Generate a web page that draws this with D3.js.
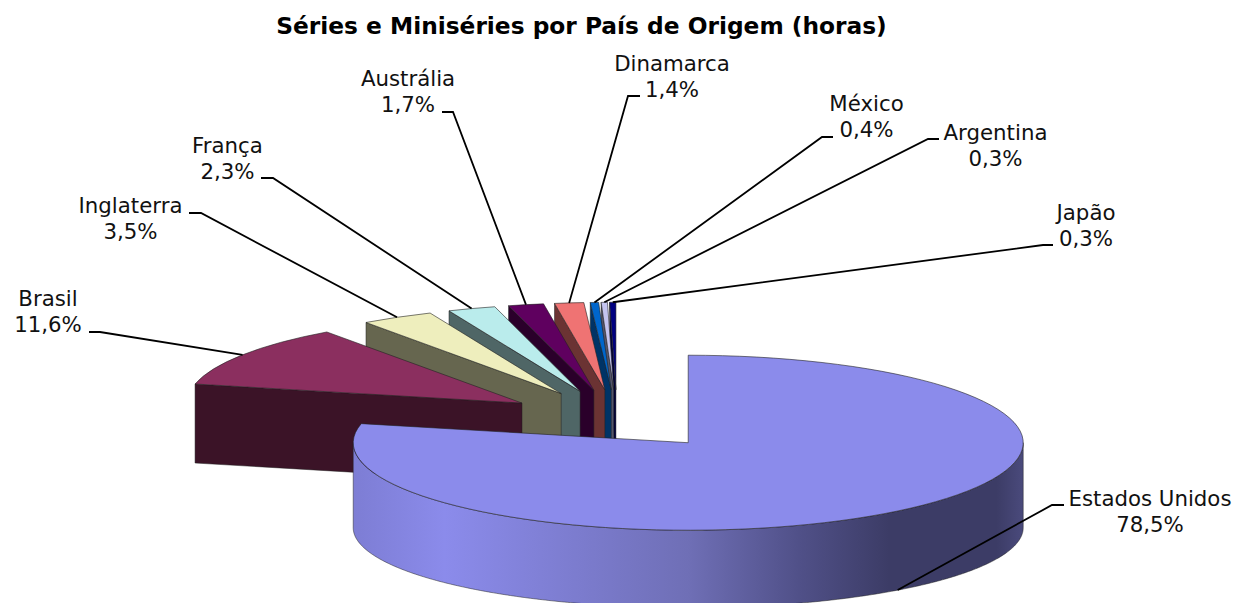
<!DOCTYPE html>
<html>
<head>
<meta charset="utf-8">
<script src="https://cdn.jsdelivr.net/npm/d3@7"></script>
<style>
  html, body { margin: 0; padding: 0; background: #fff; overflow: hidden; }
  text { font-family: "DejaVu Sans", sans-serif; fill: #111; }
</style>
</head>
<body>
<svg id="pie"></svg>
<script>
// Chart data
var countries = ["Estados Unidos", "Brasil", "Inglaterra", "França", "Austrália", "Dinamarca", "México", "Argentina", "Japão"];
var shares = [78.5, 11.6, 3.5, 2.3, 1.7, 1.4, 0.4, 0.3, 0.3];
var shareLabels = ["78,5%", "11,6%", "3,5%", "2,3%", "1,7%", "1,4%", "0,4%", "0,3%", "0,3%"];

// Slice colours, same order as countries
var topColors = ["#8b8beb", "#8b2f5f", "#eeeebd", "#baecec", "#5f005f", "#ef7373", "#0066cc", "#c4c4ef", "#000080"];
var wallColors = ["#3c3c66", "#3b1327", "#66664f", "#4f6666", "#2a002a", "#6b3333", "#003366", "#55556a", "#000038"];

// Hand placed labels: text centre, first baseline, leader start, elbow
var labelX = [1150, 48, 130.5, 227.5, 408, 672, 866.5, 995.5, 1086];
var labelY = [506, 306, 213, 153, 86, 71, 111, 140, 220];
var leaderStart = [[1064, 505], [89, 332], [189, 213], [261, 178], [442, 112], [640, 96], [833, 137], [939, 139], [1053, 245]];
var leaderElbow = [[1052, 505], [100, 332], [201, 213], [273, 178], [453, 112], [628, 96], [822, 137], [928, 139], [1043, 245]];

var width = 1235;
var height = 603;
var rx = 335;
var ry = 87.5;
var explode = 0.34;
var center = {x: 617, y: 419.5};
var depth = 79;
// the big slice is nearer the viewer so its lower rim comes out a bit different
var frontDepth = 85;
var frontRy = 80;

var svg = d3.select("#pie")
            .attr("width", width)
            .attr("height", height)
            .style("display", "block");

var slices = d3.pie().sort(null).startAngle(0).endAngle(2 * Math.PI)(shares);

// Offset of a slice apex along its middle angle
function apex(d) {
    var mid = (d.startAngle + d.endAngle) / 2;
    return {
        x: center.x + explode * rx * Math.sin(mid),
        y: center.y - explode * ry * Math.cos(mid)
    };
}

// Coordinates are local to the slice group, whose origin is the apex
var gradient = svg.append("defs").append("linearGradient")
    .attr("id", "frontWall")
    .attr("gradientUnits", "userSpaceOnUse")
    .attr("x1", -rx)
    .attr("x2", rx)
    .attr("y1", 0)
    .attr("y2", 0);

var wallStops = [[0, "#7d7dd4"], [0.137, "#8b8beb"], [0.5, "#6f6fb6"], [0.666, "#505088"], [0.8, "#3c3c66"], [0.96, "#3c3c66"], [1, "#4a4a7c"]];
gradient.selectAll("stop")
    .data(wallStops)
    .enter().append("stop")
    .attr("offset", function(d) {return d[0];})
    .attr("stop-color", function(d) {return d[1];});

var arcTop = d3.arc().innerRadius(0).outerRadius(rx);

// Outer wall of the big slice, sampled along the visible half
var rimWall = d3.area()
    .x(function(a) {return rx * Math.sin(a);})
    .y0(function(a) {return -ry * Math.cos(a);})
    .y1(function(a) {return frontDepth - frontRy * Math.cos(a);});

// Flat wall under the first radial edge of a slice
var radialWall = d3.area()
    .x(function(p) {return p[0];})
    .y0(function(p) {return p[1];})
    .y1(function(p) {return p[1] + depth;});

// Back to front: Japão first, Estados Unidos last
var order = d3.range(slices.length).slice(1).reverse().concat([0]);

var groups = svg.selectAll(".slice")
    .data(order)
    .enter().append("g")
    .classed("slice", true)
    .attr("transform", function(i) {
        var p = apex(slices[i]);
        return "translate(" + p.x + "," + p.y + ")";
    });

groups.append("path")
    .attr("d", function(i) {
        var a = slices[i].startAngle;
        if (i === 0) {
            return rimWall(d3.range(Math.PI / 2, 3 * Math.PI / 2 + 0.001, 0.01));
        }
        return radialWall([[0, 0], [rx * Math.sin(a), -ry * Math.cos(a)]]);
    })
    .attr("fill", function(i) {return i === 0 ? "url(#frontWall)" : wallColors[i];})
    .attr("stroke", "#222")
    .attr("stroke-width", 0.5);

// Circular wedge squashed into an ellipse
groups.append("path")
    .attr("d", function(i) {return arcTop(slices[i]);})
    .attr("transform", "scale(1," + (ry / rx) + ")")
    .attr("vector-effect", "non-scaling-stroke")
    .attr("fill", function(i) {return topColors[i];})
    .attr("stroke", "#222")
    .attr("stroke-width", 0.6);

// Leader lines end on the outer rim, at the slice middle
var leader = d3.line();

svg.selectAll(".leader")
    .data(slices)
    .enter().append("path")
    .classed("leader", true)
    .attr("d", function(d, i) {
        var p = apex(d);
        var mid = (d.startAngle + d.endAngle) / 2;
        var end = [p.x + rx * Math.sin(mid), p.y - ry * Math.cos(mid) + (i === 0 ? depth : 0)];
        return leader([leaderStart[i], leaderElbow[i], end]);
    })
    .attr("fill", "none")
    .attr("stroke", "#000")
    .attr("stroke-width", 1.8);

var labels = svg.selectAll(".label")
    .data(countries)
    .enter().append("text")
    .classed("label", true)
    .attr("text-anchor", "middle")
    .attr("font-size", 21.3);

labels.append("tspan")
    .attr("x", function(d, i) {return labelX[i];})
    .attr("y", function(d, i) {return labelY[i];})
    .text(function(d) {return d;});

labels.append("tspan")
    .attr("x", function(d, i) {return labelX[i];})
    .attr("y", function(d, i) {return labelY[i] + 26;})
    .text(function(d, i) {return shareLabels[i];});

svg.append("text")
    .attr("x", 581.5)
    .attr("y", 34)
    .attr("text-anchor", "middle")
    .attr("font-size", 23.3)
    .attr("font-weight", "bold")
    .style("fill", "#000")
    .text("Séries e Miniséries por País de Origem (horas)");
</script>
</body>
</html>
